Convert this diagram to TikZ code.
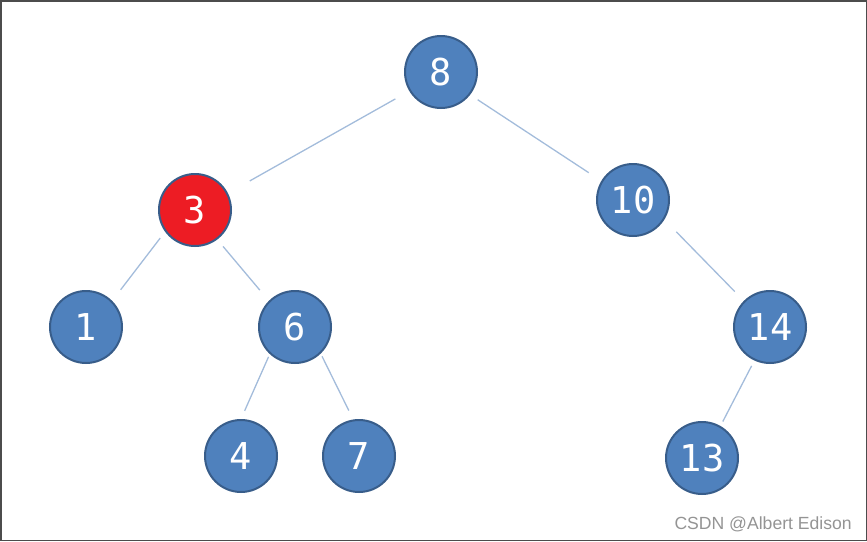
\documentclass[tikz,border=0pt]{standalone}
\usepackage{fontspec}
\setmainfont{Liberation Sans}
\newfontfamily\digitfont{DejaVu Sans Mono}
\begin{document}
\begin{tikzpicture}[x=1pt,y=-1pt,
  tnode/.style={circle,draw=bordblue,line width=2pt,fill=nodeblue,minimum size=72pt,inner sep=0pt,text=white,font=\digitfont\fontsize{37}{37}\selectfont},
  rnode/.style={tnode,fill=nodered},
  edge/.style={draw=edgeblue,line width=1.3pt}]
\definecolor{nodeblue}{HTML}{4F81BD}
\definecolor{bordblue}{HTML}{385D8A}
\definecolor{nodered}{HTML}{ED1C24}
\definecolor{edgeblue}{HTML}{A3BCDB}
\path[use as bounding box,draw=black!70,line width=1.5pt] (0.75,0.75) rectangle (866.25,540.25);
\node[tnode] (n8) at (441,72) {8};
\node[rnode] (n3) at (195,210) {3};
\node[tnode] (n10) at (633,200) {10};
\node[tnode] (n1) at (86,327) {1};
\node[tnode] (n6) at (295,327) {6};
\node[tnode] (n14) at (770,327) {14};
\node[tnode] (n4) at (241,456) {4};
\node[tnode] (n7) at (359,456) {7};
\node[tnode] (n13) at (702,458) {13};
\draw[edge,shorten <=16pt,shorten >=25pt] (n8.211.9) -- (n3.27);
\draw[edge,shorten <=9pt,shorten >=15pt] (n8.322.9) -- (n10.149);
\draw[edge,shorten <=8pt,shorten >=14pt] (n3.216.9) -- (n1.45);
\draw[edge,shorten <=9pt,shorten >=14pt] (n3.307.1) -- (n6.135);
\draw[edge,shorten <=3pt,shorten >=9pt] (n6.227) -- (n4.90);
\draw[edge,shorten <=3pt,shorten >=10pt] (n6.314) -- (n7.99.9);
\draw[edge,shorten <=17pt,shorten >=13pt] (n10.328.7) -- (n14.135.8);
\draw[edge,shorten <=6pt,shorten >=5pt] (n14.245.2) -- (n13.60.4);
\node[text=black!42,font=\fontsize{17.6}{18}\selectfont,anchor=east,inner sep=0pt] (wm) at (852,524) {CSDN @Albert Edison};
\end{tikzpicture}
\end{document}
